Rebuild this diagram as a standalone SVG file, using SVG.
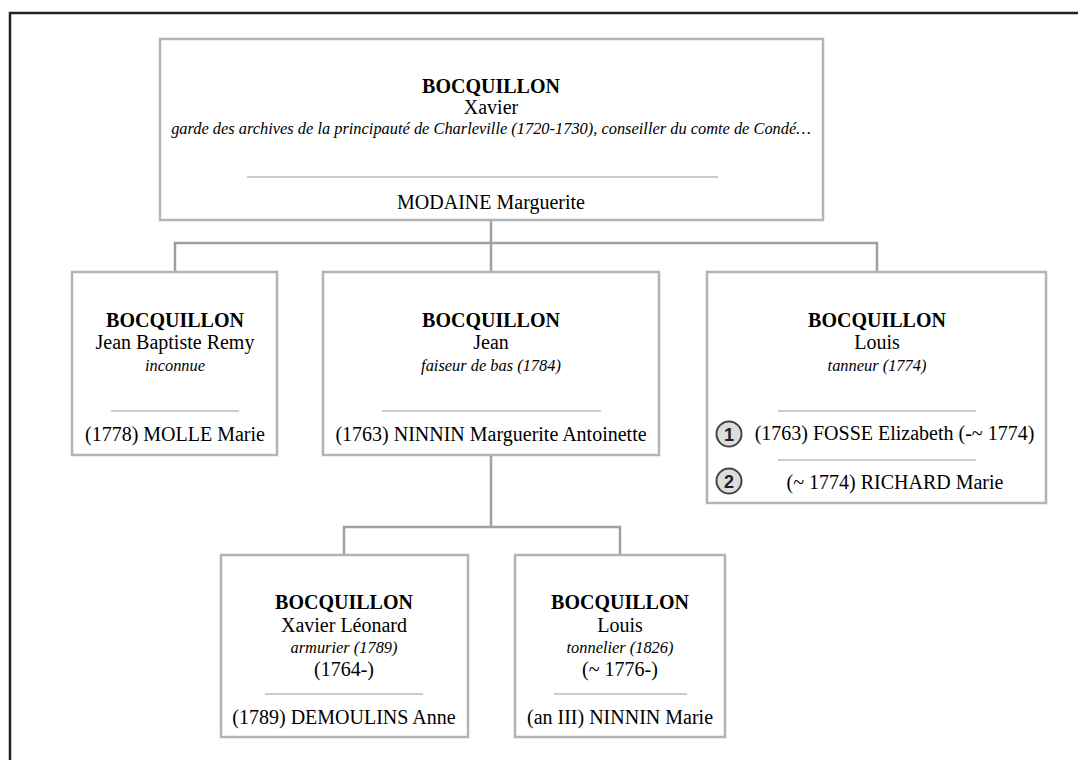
<svg xmlns="http://www.w3.org/2000/svg" width="1078" height="760" viewBox="0 0 1078 760">
<style>
.box{fill:#fff;stroke:#b4b4b4;stroke-width:2.5}
.sep{stroke:#999;stroke-width:1.2}
.conn{fill:none;stroke:#a0a0a0;stroke-width:2.5}
text{font-family:"Liberation Serif","Times New Roman",serif;fill:#000;text-anchor:middle}
.b{font-weight:bold;font-size:20px}
.r{font-size:20px}
.i{font-style:italic;font-size:16.4px}
.num{fill:#ddd;stroke:#444;stroke-width:2}
.n{font-family:"Liberation Sans",Arial,sans-serif;font-weight:bold;font-size:18px;fill:#222}
</style>
<rect x="0" y="0" width="1078" height="760" fill="#fff"/>
<path d="M10 760 V13 H1078" fill="none" stroke="#222" stroke-width="2.5"/>
<g id="connectors">
<path class="conn" d="M491 220 V243 M175 272 V243 H877 V272 M491 243 V272"/>
<path class="conn" d="M491 455 V527 M344 555 V527 H620 V555"/>
</g>
<g id="xavier">
<rect class="box" x="160" y="39" width="663" height="181"/>
<text class="b" x="491" y="93">BOCQUILLON</text>
<text class="r" x="491" y="114">Xavier</text>
<text class="i" x="491" y="134">garde des archives de la principauté de Charleville (1720-1730), conseiller du comte de Condé…</text>
<line class="sep" x1="247" y1="177" x2="718" y2="177"/>
<text class="r" x="491" y="209">MODAINE Marguerite</text>
</g>
<g id="jean-baptiste">
<rect class="box" x="72" y="272" width="205" height="183"/>
<text class="b" x="175" y="327">BOCQUILLON</text>
<text class="r" x="175" y="349">Jean Baptiste Remy</text>
<text class="i" x="175" y="371">inconnue</text>
<line class="sep" x1="111" y1="411" x2="239" y2="411"/>
<text class="r" x="175" y="441">(1778) MOLLE Marie</text>
</g>
<g id="jean">
<rect class="box" x="323" y="272" width="336" height="183"/>
<text class="b" x="491" y="327">BOCQUILLON</text>
<text class="r" x="491" y="349">Jean</text>
<text class="i" x="491" y="371">faiseur de bas (1784)</text>
<line class="sep" x1="382" y1="411" x2="601" y2="411"/>
<text class="r" x="491" y="441">(1763) NINNIN Marguerite Antoinette</text>
</g>
<g id="louis">
<rect class="box" x="707" y="272" width="339" height="231"/>
<text class="b" x="877" y="327">BOCQUILLON</text>
<text class="r" x="877" y="349">Louis</text>
<text class="i" x="877" y="371">tanneur (1774)</text>
<line class="sep" x1="778" y1="411" x2="976" y2="411"/>
<circle class="num" cx="729" cy="434" r="12.5"/>
<text class="n" x="729" y="440.5">1</text>
<text class="r" x="894.5" y="440">(1763) FOSSE Elizabeth (-~ 1774)</text>
<line class="sep" x1="778" y1="460" x2="976" y2="460"/>
<circle class="num" cx="729" cy="481" r="12.5"/>
<text class="n" x="729" y="487.5">2</text>
<text class="r" x="895" y="489">(~ 1774) RICHARD Marie</text>
</g>
<g id="xavier-leonard">
<rect class="box" x="221" y="555" width="247" height="182"/>
<text class="b" x="344" y="609">BOCQUILLON</text>
<text class="r" x="344" y="632">Xavier Léonard</text>
<text class="i" x="344" y="653">armurier (1789)</text>
<text class="r" x="344" y="676">(1764-)</text>
<line class="sep" x1="265" y1="694" x2="423" y2="694"/>
<text class="r" x="344" y="724">(1789) DEMOULINS Anne</text>
</g>
<g id="louis-2">
<rect class="box" x="515" y="555" width="210" height="182"/>
<text class="b" x="620" y="609">BOCQUILLON</text>
<text class="r" x="620" y="632">Louis</text>
<text class="i" x="620" y="653">tonnelier (1826)</text>
<text class="r" x="620" y="676">(~ 1776-)</text>
<line class="sep" x1="554" y1="694" x2="687" y2="694"/>
<text class="r" x="620" y="724">(an III) NINNIN Marie</text>
</g>
</svg>
